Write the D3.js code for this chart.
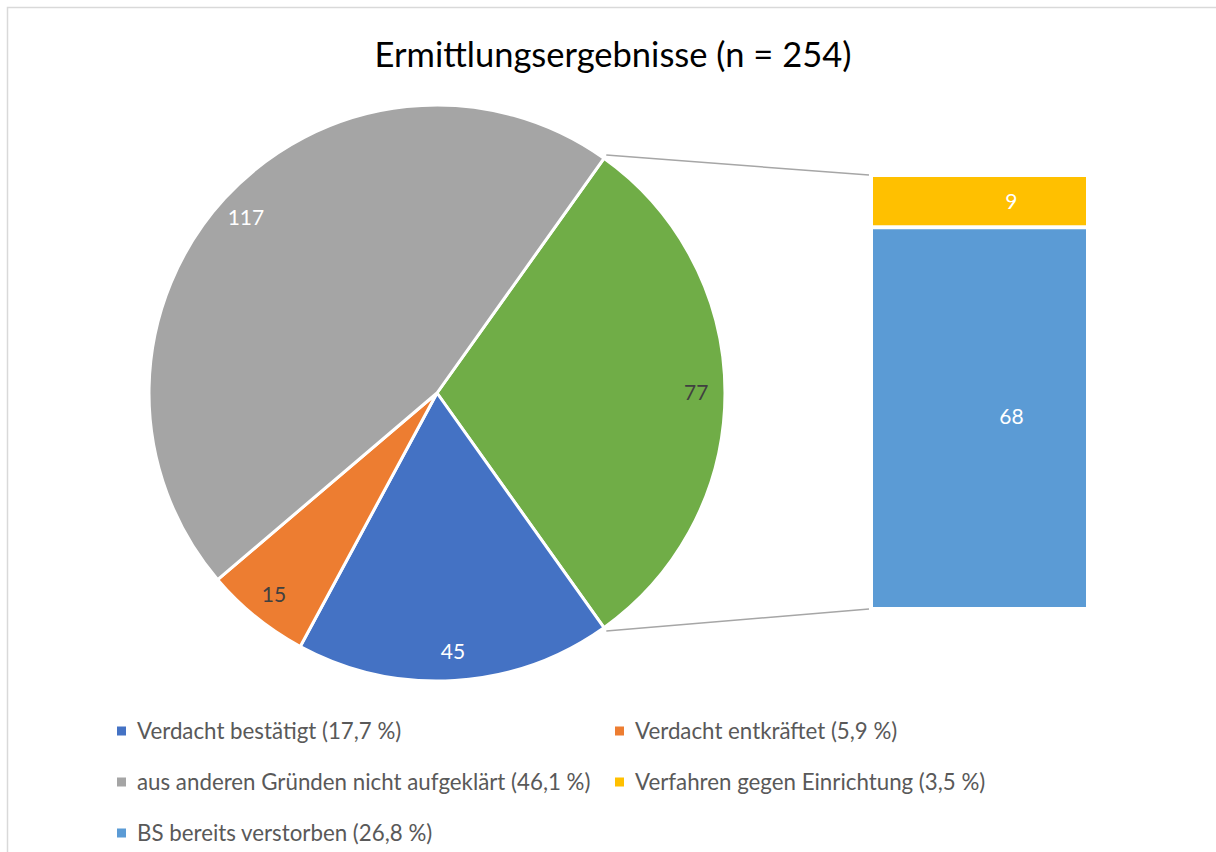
<!DOCTYPE html>
<html>
<head>
<meta charset="utf-8">
<script src="https://cdn.jsdelivr.net/npm/d3@7"></script>
<style>
  html, body { margin: 0; padding: 0; background: #fff; }
  svg { display: block; font-family: "Lato", "Open Sans", sans-serif; }
</style>
</head>
<body>
<svg id="chart" width="1216" height="852"></svg>
<script>
// pie slices, clockwise from the "other" slice
const pieNames = ["Sonstige", "Verdacht bestätigt", "Verdacht entkräftet", "aus anderen Gründen nicht aufgeklärt"];
const pieValues = [77, 45, 15, 117];
const pieColors = ["#70AD47", "#4472C4", "#ED7D31", "#A5A5A5"];
const pieLabelColors = ["#404040", "#ffffff", "#404040", "#ffffff"];

// stacked bar that splits the "other" slice, top to bottom
const barNames = ["Verfahren gegen Einrichtung", "BS bereits verstorben"];
const barValues = [9, 68];
const barColors = ["#FFC000", "#5B9BD5"];

const legendNames = ["Verdacht bestätigt", "Verdacht entkräftet", "aus anderen Gründen nicht aufgeklärt", "Verfahren gegen Einrichtung", "BS bereits verstorben"];
const legendValues = [45, 15, 117, 9, 68];
const legendColors = ["#4472C4", "#ED7D31", "#A5A5A5", "#FFC000", "#5B9BD5"];

const total = d3.sum(legendValues);
const title = "Ermittlungsergebnisse (n = " + total + ")";

(() => {
    const svg = d3.select("#chart");
    const cx = 437, cy = 393, radius = 288;
    const barX = 873, barW = 213, barTop = 177, barBottom = 607;

    // chart frame
    svg.append("rect")
        .attr("x", 7.5).attr("y", 7.5)
        .attr("width", 1230).attr("height", 870)
        .attr("fill", "none")
        .attr("stroke", "#d9d9d9")
        .attr("stroke-width", 1.5);

    svg.append("text")
        .attr("x", 613).attr("y", 67)
        .attr("text-anchor", "middle")
        .attr("font-size", 34.5)
        .attr("fill", "#000")
        .text(title);

    const otherShare = pieValues[0] / d3.sum(pieValues);
    const start = Math.PI / 2 - otherShare * Math.PI;
    const pie = d3.pie().sort(null).startAngle(start).endAngle(start + 2 * Math.PI);
    const arcs = pie(pieValues);
    const arc = d3.arc().innerRadius(0).outerRadius(radius);
    const labelArc = d3.arc().innerRadius(radius * 0.9).outerRadius(radius * 0.9);

    const g = svg.append("g").attr("transform", `translate(${cx},${cy})`);
    g.selectAll("path")
        .data(arcs)
        .enter().append("path")
        .attr("d", arc)
        .attr("fill", (d, i) => pieColors[i])
        .attr("stroke", "#fff")
        .attr("stroke-width", 3)
        .attr("stroke-linejoin", "round");

    g.selectAll("text")
        .data(arcs)
        .enter().append("text")
        .attr("transform", d => `translate(${labelArc.centroid(d)})`)
        .attr("text-anchor", "middle")
        .attr("dy", "0.35em")
        .attr("font-size", 21)
        .attr("fill", (d, i) => pieLabelColors[i])
        .text(d => d.data);

    // bar of pie
    const y = d3.scaleLinear().domain([0, d3.sum(barValues)]).range([barTop, barBottom]);
    const cum = d3.cumsum(barValues);
    const segs = barValues.map((v, i) => ({v, y0: cum[i] - v, y1: cum[i], i}));
    const gap = 2;
    svg.selectAll("rect.seg")
        .data(segs)
        .enter().append("rect")
        .attr("class", "seg")
        .attr("x", barX)
        .attr("width", barW)
        .attr("y", d => y(d.y0) + (d.y0 > 0 ? gap : 0))
        .attr("height", d => y(d.y1) - y(d.y0) - (d.y0 > 0 ? gap : 0) - (d.y1 < y.domain()[1] ? gap : 0))
        .attr("fill", d => barColors[d.i]);

    svg.selectAll("text.seg")
        .data(segs)
        .enter().append("text")
        .attr("class", "seg")
        .attr("x", barX + barW * 0.65)
        .attr("y", d => (y(d.y0) + y(d.y1)) / 2)
        .attr("dy", "0.35em")
        .attr("text-anchor", "middle")
        .attr("font-size", 21)
        .attr("fill", "#fff")
        .text(d => d.v);

    // connector lines from the "other" slice to the bar
    const a0 = arcs[0].startAngle, a1 = arcs[0].endAngle;
    const pt = a => [cx + (radius + 4) * Math.sin(a), cy - (radius + 4) * Math.cos(a)];
    const lines = [[pt(a0), [barX - 4, y(0) - 2]], [pt(a1), [barX - 4, y.range()[1] + 2]]];
    svg.selectAll("line.conn")
        .data(lines)
        .enter().append("line")
        .attr("class", "conn")
        .attr("x1", d => d[0][0]).attr("y1", d => d[0][1])
        .attr("x2", d => d[1][0]).attr("y2", d => d[1][1])
        .attr("stroke", "#a6a6a6")
        .attr("stroke-width", 1.5);

    // legend, two columns
    const fmt = v => d3.format(".1f")(v / total * 100).replace(".", ",") + " %";
    const leg = svg.selectAll("g.leg")
        .data(legendNames)
        .enter().append("g")
        .attr("class", "leg")
        .attr("transform", (d, i) => `translate(${i % 2 === 0 ? 117 : 615},${731 + Math.floor(i / 2) * 51})`);
    leg.append("rect")
        .attr("x", 0).attr("y", -4.5)
        .attr("width", 9).attr("height", 9)
        .attr("fill", (d, i) => legendColors[i]);
    leg.append("text")
        .attr("x", 20)
        .attr("dy", "0.35em")
        .attr("font-size", 22.3)
        .attr("fill", "#595959")
        .text((d, i) => `${d} (${fmt(legendValues[i])})`);
})();
</script>
</body>
</html>
